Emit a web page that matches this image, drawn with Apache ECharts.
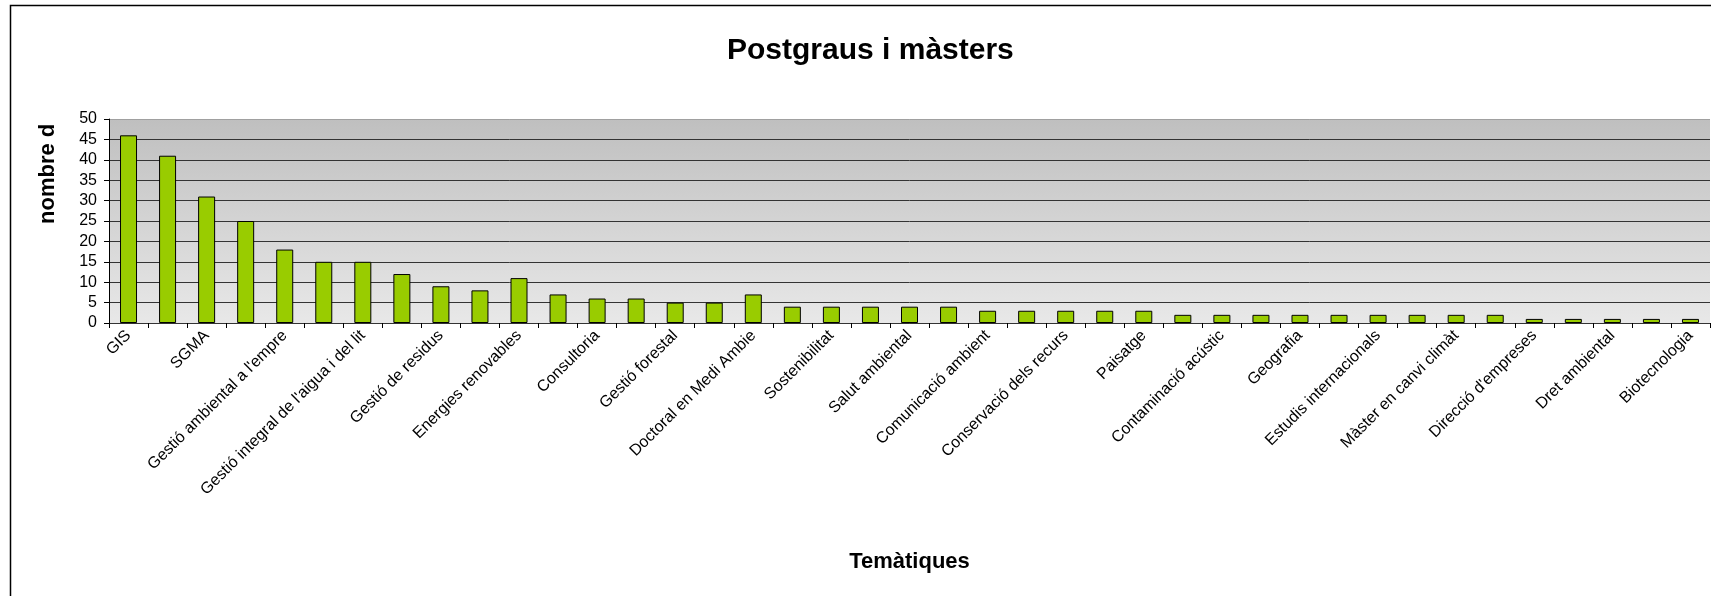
<!DOCTYPE html>
<html>
<head>
<meta charset="utf-8">
<script src="https://cdn.jsdelivr.net/npm/echarts@6/dist/echarts.min.js"></script>
<style>
  html, body { margin: 0; padding: 0; background: #fff; }
  #chart { width: 1711px; height: 596px; }
</style>
</head>
<body>
<div id="chart"></div>
<script>
// Category labels as visible in the reference (every other label is hidden by the axis; those are unreadable and left blank)
const categories = [
  "GIS", "", "SGMA", "", "Gestió ambiental a l'empre", "", "Gestió integral de l'aigua i del lit", "",
  "Gestió de residus", "", "Energies renovables", "", "Consultoria", "", "Gestió forestal", "",
  "Doctoral en Medi Ambie", "", "Sostenibilitat", "", "Salut ambiental", "", "Comunicació ambient", "",
  "Conservació dels recurs", "", "Paisatge", "", "Contaminació acústic", "", "Geografia", "",
  "Estudis internacionals", "", "Màster en canvi climàt", "", "Direcció d'empreses", "",
  "Dret ambiental", "", "Biotecnologia"
];
const values = [
  46, 41, 31, 25, 18, 15, 15, 12, 9, 8, 11, 7, 6, 6, 5, 5, 7,
  4, 4, 4, 4, 4, 3, 3, 3, 3, 3,
  2, 2, 2, 2, 2, 2, 2, 2, 2,
  1, 1, 1, 1, 1
];
const yTicks = { min: 0, max: 50, interval: 5 };
const titleText = "Postgraus i màsters";
const xName = "Temàtiques";
const yName = "nombre d";

const chart = echarts.init(document.getElementById('chart'), null, { renderer: 'canvas' });
const font = "'Liberation Sans', Arial, sans-serif";

chart.setOption({
  backgroundColor: '#ffffff',
  animation: false,
  title: {
    text: titleText,
    left: 727,
    top: 36,
    padding: 0,
    textStyle: { fontFamily: font, fontSize: 30, fontWeight: 'bold', color: '#000', letterSpacing: -0.5 }
  },
  graphic: [
    {
      type: 'rect',
      shape: { x: 10.5, y: 5.5, width: 1800, height: 800 },
      style: { fill: 'none', stroke: '#000', lineWidth: 1.5 },
      silent: true, z: 100
    },
    {
      type: 'text',
      x: 48, y: 224,
      rotation: Math.PI / 2,
      style: {
        text: yName, fontFamily: font, fontSize: 22, fontWeight: 'bold',
        fill: '#000', textAlign: 'left', textVerticalAlign: 'middle'
      },
      silent: true
    }
  ],
  grid: {
    left: 109, top: 119, right: 1, bottom: 273,
    show: true,
    borderWidth: 0,
    backgroundColor: {
      type: 'linear', x: 0, y: 0, x2: 0, y2: 1,
      colorStops: [{ offset: 0, color: '#bfbfbf' }, { offset: 1, color: '#e8e8e8' }]
    }
  },
  xAxis: {
    type: 'category',
    data: categories,
    name: xName,
    nameLocation: 'middle',
    nameGap: 228,
    nameTextStyle: { fontFamily: font, fontSize: 22, fontWeight: 'bold', color: '#000' },
    axisLine: { show: true, lineStyle: { color: '#333', width: 1 } },
    axisTick: { show: true, interval: 0, length: 5, lineStyle: { color: '#000' } },
    axisLabel: {
      interval: 1, rotate: 45, margin: 10,
      fontFamily: font, fontSize: 16, color: '#000'
    },
    splitLine: { show: false }
  },
  yAxis: {
    type: 'value',
    min: yTicks.min, max: yTicks.max, interval: yTicks.interval,
    axisLine: { show: true, lineStyle: { color: '#000', width: 1 } },
    axisTick: { show: true, length: 5, lineStyle: { color: '#000' } },
    axisLabel: { margin: 12, fontFamily: font, fontSize: 16, color: '#000' },
    splitLine: {
      show: true,
      lineStyle: {
        width: 1,
        color: ['#333', '#333', '#333', '#333', '#333', '#333', '#333', '#333', '#333', '#333', '#a0a0a0']
      }
    }
  },
  series: [{
    type: 'bar',
    data: values,
    barWidth: 17,
    itemStyle: { color: '#99cc00', borderColor: '#000', borderWidth: 1 }
  }]
});
</script>
</body>
</html>
